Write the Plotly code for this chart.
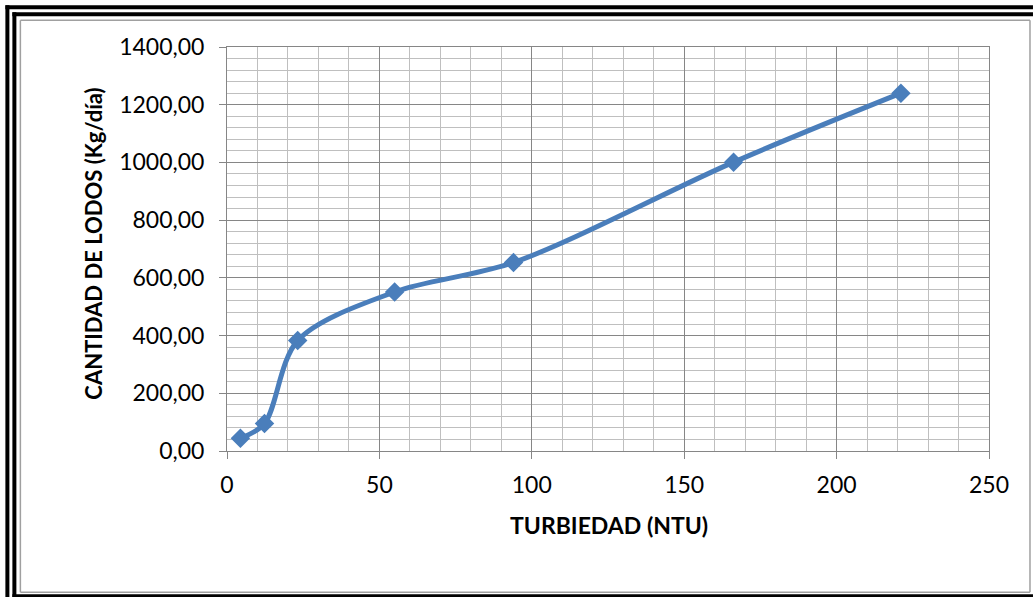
import plotly.graph_objects as go

turbiedad = [4.4, 12.3, 23.2, 55.0, 94.0, 166.2, 221.1]
lodos = [44, 95, 383, 551, 653, 1001, 1240]

x_title = "TURBIEDAD (NTU)"
y_title = "CANTIDAD DE LODOS (Kg/día)"

W, H = 1033, 597
L, R, T, B = 226.7, 989.0, 46.7, 450.7
PW, PH = R - L, B - T

def px(x):
    return (x - L) / PW

def py(y):
    return (B - y) / PH

BLUE = "#4A7EBB"
FONT = "Lato"

fig = go.Figure()
fig.add_trace(go.Scatter(
    x=turbiedad, y=lodos, mode="lines+markers",
    line=dict(color=BLUE, width=5, shape="spline", smoothing=0.9),
    marker=dict(symbol="diamond", size=15, color=BLUE),
    showlegend=False,
))

axis_common = dict(
    showline=True, linecolor="#868686", linewidth=1, mirror=True,
    showgrid=True, gridcolor="#868686", gridwidth=1,
    ticks="outside", ticklen=7, tickcolor="#868686", tickwidth=1,
    zeroline=False,
    tickfont=dict(family=FONT, size=23, color="#000000"),
)

fig.update_xaxes(
    range=[0, 250], dtick=50, tick0=0,
    minor=dict(dtick=10, showgrid=True, gridcolor="#bfbfbf", gridwidth=1, ticks=""),
    ticklabelstandoff=6,
    **axis_common,
)
fig.update_yaxes(
    range=[0, 1400], dtick=200, tick0=0, tickformat=".2f",
    minor=dict(dtick=40, showgrid=True, gridcolor="#bfbfbf", gridwidth=1, ticks=""),
    ticklabelstandoff=10,
    **axis_common,
)

shapes = []
def line(x0, y0, x1, y1, color, width):
    shapes.append(dict(type="line", xref="paper", yref="paper",
                       x0=px(x0), y0=py(y0), x1=px(x1), y1=py(y1),
                       line=dict(color=color, width=width), layer="above"))

# outer black frame
line(7, 5, 7, 597, "#000000", 4)
line(5, 7, 1033, 7, "#000000", 4)
# inner black frame
line(14, 12, 14, 597, "#000000", 4)
line(12, 14, 1033, 14, "#000000", 4)
line(12, 595.5, 1033, 595.5, "#000000", 3)
# grey frame
line(20, 20, 20, 592, "#a0a0a0", 1.5)
line(20, 20, 1030, 20, "#a0a0a0", 1.5)
line(1030, 20, 1030, 592, "#a0a0a0", 1.5)
line(20, 592, 1030, 592, "#a0a0a0", 1.5)

annotations = [
    dict(text=x_title, xref="paper", yref="paper", x=px(609), y=py(525),
         xanchor="center", yanchor="middle", showarrow=False,
         font=dict(family=FONT, size=23, color="#000000", weight="bold")),
    dict(text=y_title, xref="paper", yref="paper", x=px(93), y=py(243),
         xanchor="center", yanchor="middle", showarrow=False, textangle=-90,
         font=dict(family=FONT, size=22, color="#000000", weight="bold")),
]

fig.update_layout(
    width=W, height=H,
    margin=dict(l=L, r=W - R, t=T, b=H - B, pad=0),
    paper_bgcolor="#ffffff", plot_bgcolor="#ffffff",
    separators=",.",
    shapes=shapes, annotations=annotations,
    font=dict(family=FONT),
)

fig.write_html("out.html")
